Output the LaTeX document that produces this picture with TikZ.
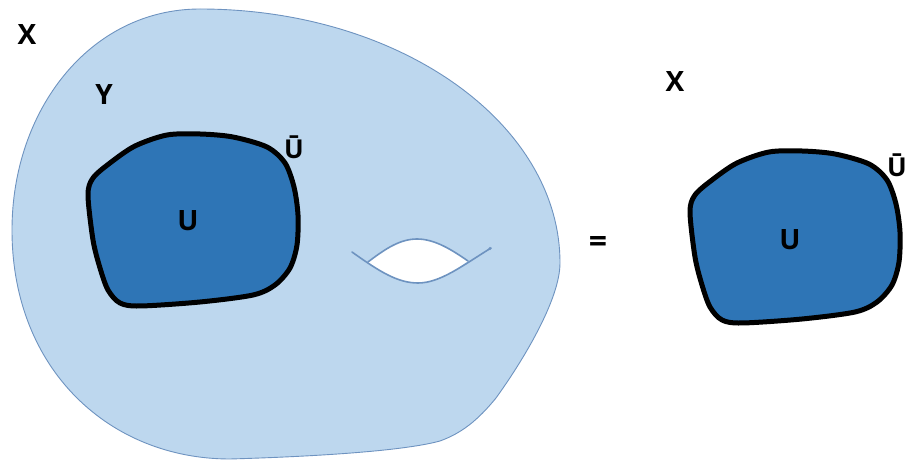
\documentclass[tikz,border=0pt]{standalone}
\usepackage{fontspec}
\setmainfont{Open Sans}
\definecolor{lightblob}{HTML}{BDD7EE}
\definecolor{blobline}{HTML}{6E93C0}
\definecolor{ublue}{HTML}{2E75B6}
\tikzset{
  lbl/.style={font=\fontsize{28}{30}\selectfont\bfseries, inner sep=0pt},
  smalllbl/.style={font=\fontsize{26}{28}\selectfont\bfseries, inner sep=0pt},
  eqlbl/.style={font=\fontsize{32}{34}\selectfont\bfseries, inner sep=0pt},
  ushp/.style={fill=ublue, draw=black, line width=5pt, line join=round},
  ushapepic/.pic={
    \draw[ushp] plot[smooth cycle, tension=0.5] coordinates{
      (88,195) (93,178) (110,163) (135,146) (167,135) (200,134) (233,137)
      (267,147) (285,163) (294,187) (298,215) (297,245) (290,268) (275,285)
      (253,295) (200,302) (140,306) (120,303) (108,290) (100,268) (93,240)};
  }
}
\begin{document}
\begin{tikzpicture}[x=1pt,y=-1pt]
\useasboundingbox (0,0) rectangle (906,462);
% big blob Y
\draw[fill=lightblob, draw=blobline, line width=0.9pt]
  (200,9) .. controls (399,9) and (560,123) .. (560,263)
  .. controls (560,300) and (522,362) .. (496,398)
  .. controls (478,420) and (462,433) .. (440,441)
  .. controls (400,452) and (300,457) .. (230,459)
  .. controls (110,459) and (12,370) .. (12,230)
  .. controls (12,110) and (90,9) .. (200,9) -- cycle;
% hole
\fill[white] (368,262) .. controls (385,249) and (400,239) .. (417,239)
  .. controls (435,239) and (452,250) .. (468,261)
  .. controls (452,272) and (438,283) .. (418,283)
  .. controls (400,283) and (385,274) .. (368,262) -- cycle;
\draw[blobline, line width=1.6pt, line cap=round]
  (368,262) .. controls (385,249) and (400,239) .. (417,239)
  .. controls (435,239) and (452,250) .. (468,261);
\draw[blobline, line width=1.6pt, line cap=round]
  (352,252) .. controls (380,272) and (398,283) .. (418,283)
  .. controls (440,283) and (462,266) .. (491,248);
\fill[blobline] (490,248.5) circle (1.6);
% U shapes
\pic at (0,0) {ushapepic};
\pic at (602,17) {ushapepic};
% labels
\node[lbl] (xl) at (27,35) {X};
\node[lbl] (yl) at (104,95) {Y};
\node[smalllbl] (ubl) at (294,147) {Ū};
\node[lbl] (ul) at (188,221) {U};
\node[eqlbl] (eq) at (598,245) {=};
\node[lbl] (xr) at (675,82) {X};
\node[smalllbl] (ubr) at (897,165) {Ū};
\node[lbl] (ur) at (790,240) {U};
\end{tikzpicture}
\end{document}
